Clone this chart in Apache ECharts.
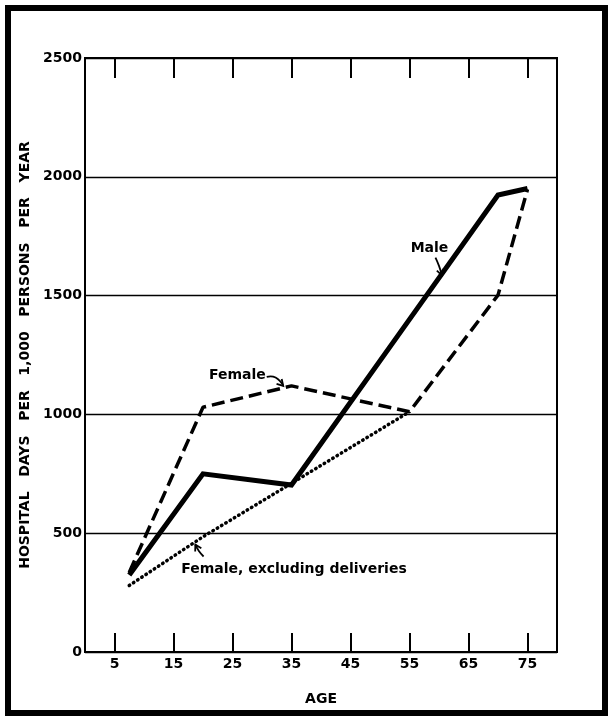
<!DOCTYPE html>
<html>
<head>
<meta charset="utf-8">
<script src="https://cdn.jsdelivr.net/npm/echarts@6/dist/echarts.min.js"></script>
<style>
html,body{margin:0;padding:0;background:#fff;}
#chart{width:612px;height:723px;}
</style>
</head>
<body>
<div id="chart"></div>
<script>
// ---- data ----
const ages = [7.5, 20, 35, 55, 70, 75];
const maleDays = [324, 750, 703, 1400, 1923, 1951];
const femaleDays = [335, 1030, 1120, 1011, 1502, 1947];
const exclAges = [7.5, 20, 35, 55];
const femaleExclDeliveries = [280, 485, 710, 1011];
const xTicks = [5, 15, 25, 35, 45, 55, 65, 75];
const yTicks = [0, 500, 1000, 1500, 2000, 2500];
const yTitle = 'HOSPITAL   DAYS   PER   1,000   PERSONS   PER   YEAR';
const xTitle = 'AGE';
// annotation texts and anchor points in data units [age, days]
const labelMale = {text: 'Male', at: [55.2, 1700], arrow: [[59.4, 1660], [60.0, 1625], [60.5, 1585]]};
const labelFemale = {text: 'Female', at: [21.0, 1166], arrow: [[30.8, 1158], [32.3, 1155], [33.6, 1120]]};
const labelExcl = {text: 'Female, excluding deliveries', at: [16.3, 349], arrow: [[20.1, 402], [19.3, 425], [18.7, 452]]};

function pairs(xs, ys) { return xs.map((x, i) => [x, ys[i]]); }

const font = 'DejaVu Sans';
const chart = echarts.init(document.getElementById('chart'), null, {renderer: 'canvas'});

const option = {
  animation: false,
  backgroundColor: '#fff',
  grid: {left: 85, right: 55, top: 58, bottom: 71, show: true, borderColor: '#000', borderWidth: 2},
  xAxis: [{
    type: 'value', min: 0, max: 80, position: 'bottom',
    name: xTitle, nameLocation: 'middle', nameGap: 40,
    nameTextStyle: {fontFamily: font, fontWeight: 'bold', fontSize: 14, color: '#000'},
    axisLine: {show: true, lineStyle: {color: '#000', width: 2}},
    axisTick: {show: true, inside: true, length: 19, lineStyle: {color: '#000', width: 2}, customValues: xTicks},
    axisLabel: {show: true, customValues: xTicks, fontFamily: font, fontWeight: 'bold', fontSize: 14, color: '#000', margin: 5},
    splitLine: {show: false}
  }, {
    type: 'value', min: 0, max: 80, position: 'top',
    axisLine: {show: true, lineStyle: {color: '#000', width: 2}},
    axisTick: {show: true, inside: true, length: 20, lineStyle: {color: '#000', width: 2}, customValues: xTicks},
    axisLabel: {show: false},
    splitLine: {show: false}
  }],
  yAxis: {
    type: 'value', min: 0, max: 2500, interval: 500,
    name: yTitle, nameLocation: 'middle', nameGap: 50, nameRotate: 90,
    nameTextStyle: {fontFamily: font, fontWeight: 'bold', fontSize: 14, color: '#000'},
    axisLine: {show: true, lineStyle: {color: '#000', width: 2}},
    axisTick: {show: false},
    axisLabel: {customValues: yTicks, formatter: v => String(v), fontFamily: font, fontWeight: 'bold', fontSize: 14, color: '#000', margin: 3},
    splitLine: {show: true, lineStyle: {color: '#000', width: 1.3}}
  },
  series: [{
    name: 'Male', type: 'line', data: pairs(ages, maleDays), symbol: 'none',
    lineStyle: {color: '#000', width: 5, join: 'miter'}, z: 5
  }, {
    name: 'Female', type: 'line', data: pairs(ages, femaleDays), symbol: 'none',
    lineStyle: {color: '#000', width: 3.5, type: [13, 6]}, z: 4
  }, {
    name: 'Female, excluding deliveries', type: 'line', data: pairs(exclAges, femaleExclDeliveries), symbol: 'none',
    lineStyle: {color: '#000', width: 3.5, type: [0.5, 4.5], cap: 'round'}, z: 3
  }]
};
chart.setOption(option);

function px(p) { return chart.convertToPixel({xAxisIndex: 0, yAxisIndex: 0}, p); }
function arrowGraphics(pts) {
  const P = pts.map(px);
  const n = P.length;
  const tip = P[n - 1], prev = P[n - 2];
  const ang = Math.atan2(tip[1] - prev[1], tip[0] - prev[0]);
  const L = 7, a = Math.PI / 6;
  const w1 = [tip[0] - L * Math.cos(ang - a), tip[1] - L * Math.sin(ang - a)];
  const w2 = [tip[0] - L * Math.cos(ang + a), tip[1] - L * Math.sin(ang + a)];
  return [
    {type: 'polyline', shape: {points: P, smooth: 0.5}, style: {stroke: '#000', lineWidth: 1.8, fill: null}, z: 10},
    {type: 'polyline', shape: {points: [w1, tip, w2]}, style: {stroke: '#000', lineWidth: 1.8, fill: null}, z: 10}
  ];
}
function textGraphic(lbl) {
  const p = px(lbl.at);
  return {type: 'text', x: p[0], y: p[1], style: {text: lbl.text, fontFamily: font, fontWeight: 'bold', fontSize: 14, fill: '#000', textVerticalAlign: 'middle', textAlign: 'left'}, z: 10};
}
const graphics = [
  {type: 'rect', shape: {x: 8, y: 8, width: 597, height: 705}, style: {fill: null, stroke: '#000', lineWidth: 6}, z: 10}
];
[labelMale, labelFemale, labelExcl].forEach(l => {
  graphics.push(textGraphic(l));
  arrowGraphics(l.arrow).forEach(g => graphics.push(g));
});
chart.setOption({graphic: graphics});
</script>
</body>
</html>
